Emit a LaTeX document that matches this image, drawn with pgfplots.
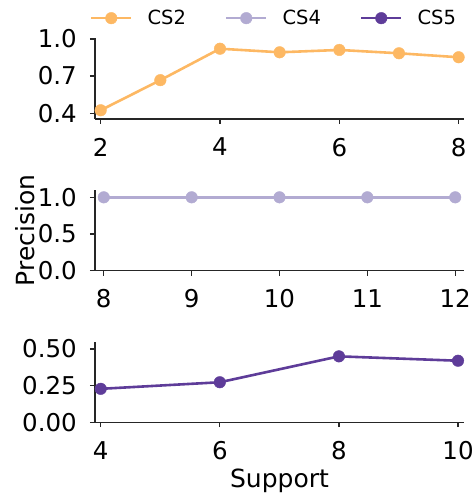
\documentclass[border=0pt]{standalone}
\usepackage{fontspec}
\setmainfont{DejaVu Sans}
\usepackage{pgfplots}
\pgfplotsset{compat=1.18}

\definecolor{cstwo}{HTML}{FDB863}
\definecolor{csfour}{HTML}{B2ABD2}
\definecolor{csfive}{HTML}{5E3C99}
\definecolor{spine}{HTML}{262626}

\pgfplotsset{
  panel/.style={
    scale only axis, width=369bp, height=80.5bp,
    anchor=north west,
    axis lines=left,
    axis line style={-, line width=1.4bp, spine},
    tick align=outside,
    major tick length=5bp,
    every tick/.style={line width=1.2bp, spine},
    tick label style={font=\fontsize{24.5bp}{26bp}\selectfont, inner sep=0pt},
    /pgf/number format/assume math mode=true,
    xticklabel shift=14bp,
    yticklabel shift=13bp,
    label style={font=\fontsize{25bp}{28bp}\selectfont, inner sep=0pt},
    every axis plot/.append style={line width=2.6bp, mark=*, mark size=5.8bp,
      mark options={line width=0.4bp}},
  },
}

\begin{document}
\begin{tikzpicture}
\useasboundingbox (-95bp,-454.7bp) rectangle (380bp,38.3bp);

% top panel: CS2
\begin{axis}[panel, at={(0,0)},
    xmin=1.905, xmax=8.09, ymin=0.355, ymax=1.005,
    xtick={2,4,6,8},
    ytick={0.4,0.7,1.0}, yticklabels={0.4,0.7,1.0},
    legend columns=3,
    legend style={at={(axis description cs:-0.0136,1.25)}, anchor=west,
      draw=none, fill=none, inner sep=0pt, outer sep=0pt,
      font=\fontsize{19.5bp}{21bp}\selectfont,
      nodes={inner sep=0pt},
      /tikz/every odd column/.append style={column sep=15bp},
      /tikz/every even column/.append style={column sep=39bp}},
    legend cell align=left,
    legend image code/.code={\draw[mark repeat=2,mark phase=2,#1]
      plot coordinates {(0bp,0bp)(20bp,0bp)(40bp,0bp)};},
]
\addplot[cstwo] coordinates {
  (2,0.424)(3,0.667)(4,0.921)(5,0.892)(6,0.911)(7,0.884)(8,0.852)
};
\addlegendentry{CS2}
\addlegendimage{csfour, line width=2.6bp, mark=*, mark size=5.8bp, mark options={line width=0.4bp}}
\addlegendentry{CS4}
\addlegendimage{csfive, line width=2.6bp, mark=*, mark size=5.8bp, mark options={line width=0.4bp}}
\addlegendentry{CS5}
\end{axis}

% middle panel: CS4
\begin{axis}[panel, at={(0,-151.7bp)},
    xmin=7.9, xmax=12.1, ymin=0, ymax=1.1,
    xtick={8,9,10,11,12},
    ytick={0,0.5,1.0}, yticklabels={0.0,0.5,1.0},
    ylabel={Precision},
    ylabel style={at={(axis description cs:-0.19,0.5)}, anchor=center},
]
\addplot[csfour] coordinates {
  (8,1.0)(9,1.0)(10,1.0)(11,1.0)(12,1.0)
};
\end{axis}

% bottom panel: CS5
\begin{axis}[panel, at={(0,-303.4bp)},
    xmin=3.904, xmax=10.1, ymin=0, ymax=0.55,
    xtick={4,6,8,10},
    ytick={0,0.25,0.5}, yticklabels={0.00,0.25,0.50},
    xlabel={Support},
    xlabel style={at={(axis description cs:0.5,-0.805)}, anchor=base},
]
\addplot[csfive] coordinates {
  (4,0.228)(6,0.273)(8,0.450)(10,0.420)
};
\end{axis}
\end{tikzpicture}
\end{document}
